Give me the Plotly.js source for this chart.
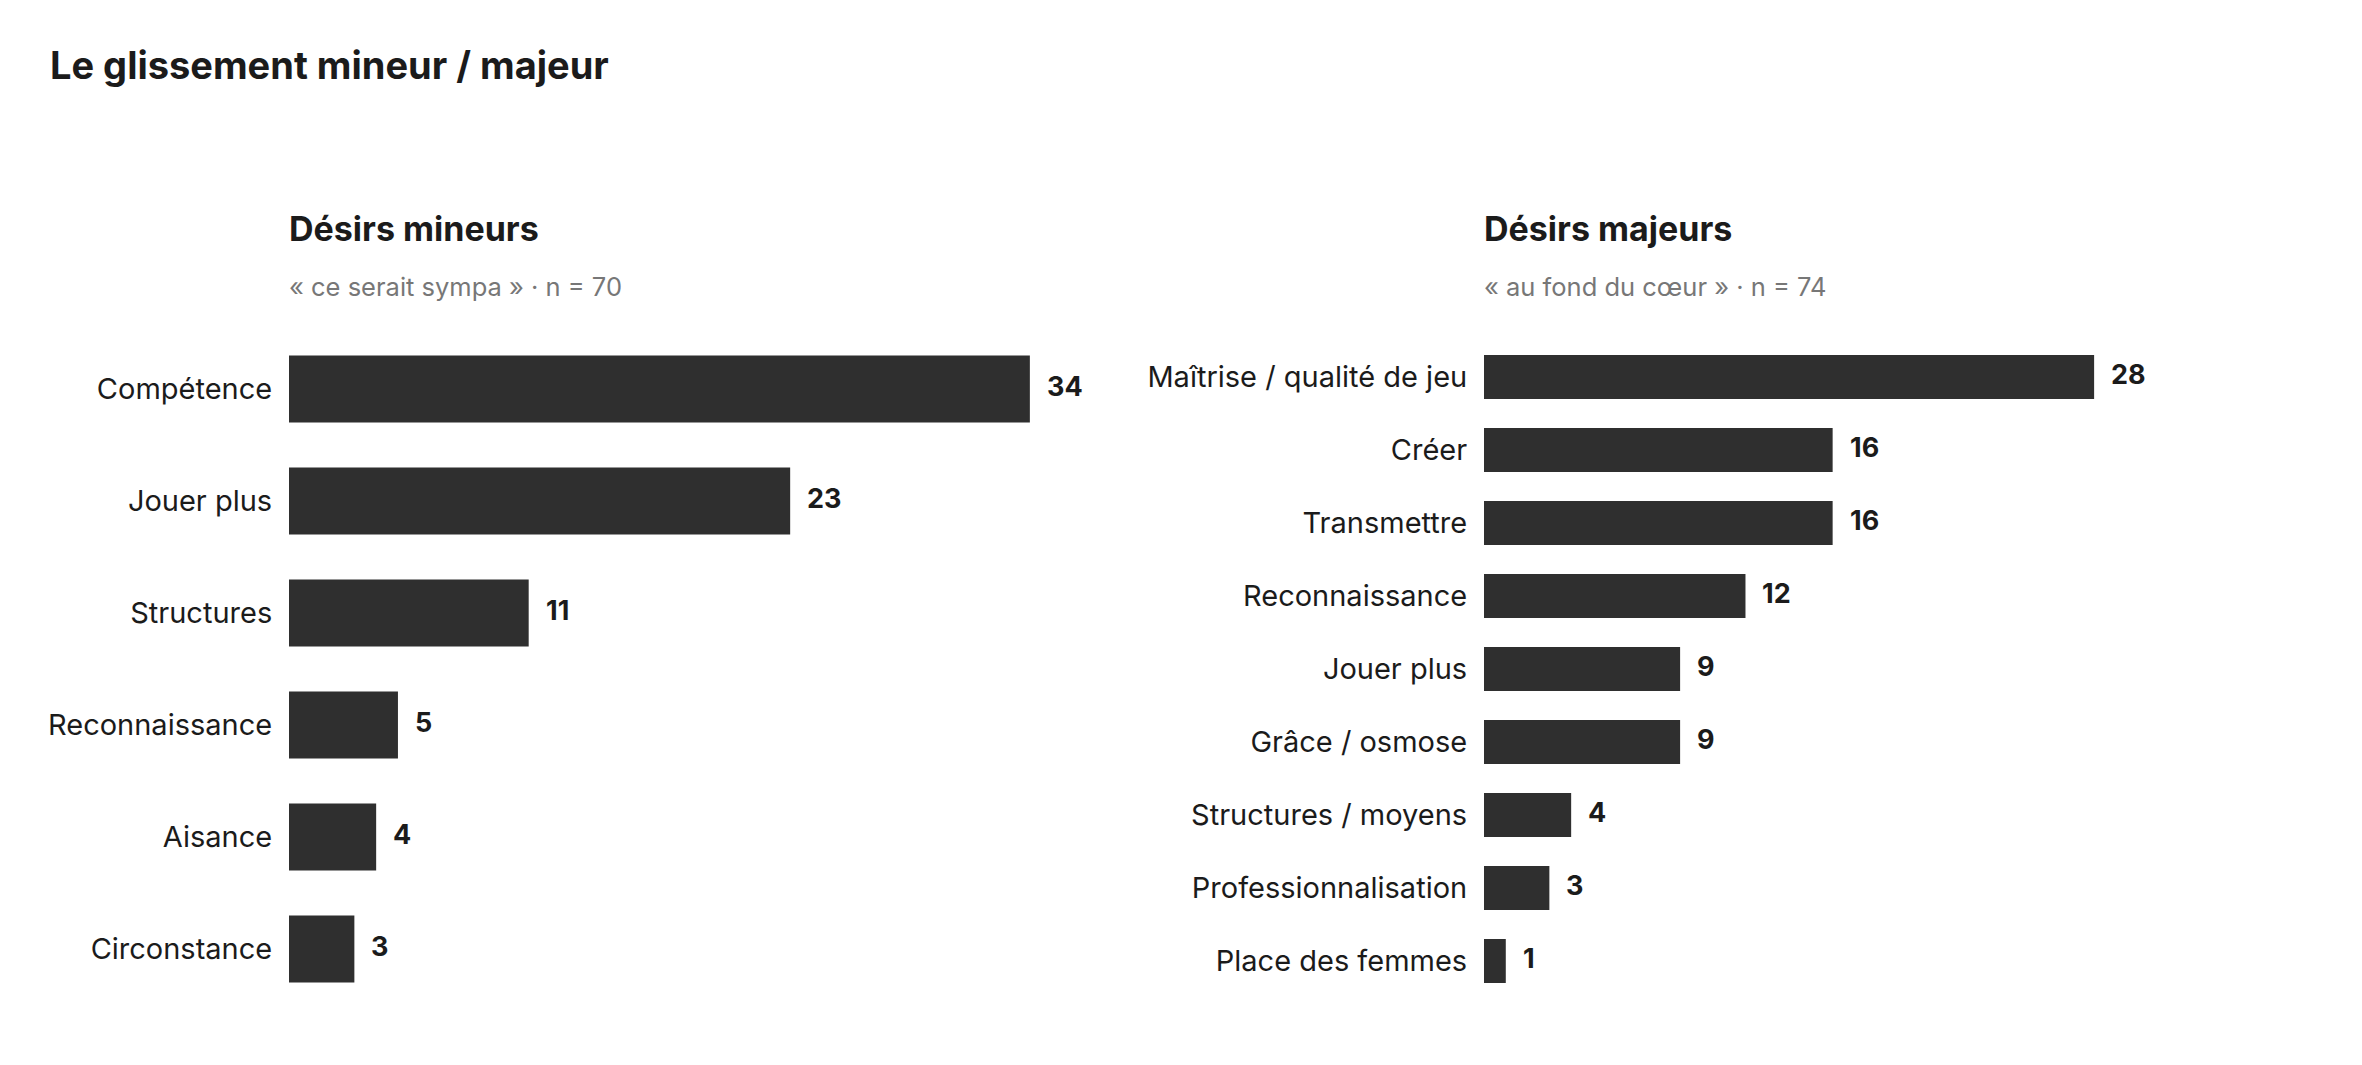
<!DOCTYPE html>
<html>
<head>
<meta charset="utf-8">
<script src="https://cdn.plot.ly/plotly-3.0.1.min.js"></script>
<style>
html,body{margin:0;padding:0;background:#fff;}
#chart{width:2362px;height:1065px;}
</style>
</head>
<body>
<div id="chart"></div>
<script>
// ---- data ----
const minorCategories = ["Compétence", "Jouer plus", "Structures", "Reconnaissance", "Aisance", "Circonstance"];
const minorValues = [34, 23, 11, 5, 4, 3];
const majorCategories = ["Maîtrise / qualité de jeu", "Créer", "Transmettre", "Reconnaissance", "Jouer plus", "Grâce / osmose", "Structures / moyens", "Professionnalisation", "Place des femmes"];
const majorValues = [28, 16, 16, 12, 9, 9, 4, 3, 1];
const chartTitle = "Le glissement mineur / majeur";
const minorTitle = "Désirs mineurs";
const minorSubtitle = "« ce serait sympa » · n = 70";
const majorTitle = "Désirs majeurs";
const majorSubtitle = "« au fond du cœur » · n = 74";

// ---- style ----
const FONT = "Inter, 'DejaVu Sans', sans-serif";
const BAR = "#2f2f2f";
const INK = "#1b1b1b";
const GREY = "#777777";
const W = 2362, H = 1065;

const traces = [
  {type:"bar", orientation:"h", x:minorValues, y:minorCategories, xaxis:"x", yaxis:"y",
   marker:{color:BAR}, hoverinfo:"none"},
  {type:"bar", orientation:"h", x:majorValues, y:majorCategories, xaxis:"x2", yaxis:"y2",
   marker:{color:BAR}, hoverinfo:"none"}
];

function valueAnnotations(cats, vals, xr, yr){
  return cats.map((c,i)=>({x:vals[i], y:c, xref:xr, yref:yr, text:"<b>"+vals[i]+"</b>",
    showarrow:false, xanchor:"left", yanchor:"middle", xshift:15, yshift:3,
    font:{family:FONT, size:27, color:INK}}));
}

const annotations = [
  {xref:"paper", yref:"paper", x:287/W, y:1-229/H, text:"<b>"+minorTitle+"</b>", showarrow:false,
   xanchor:"left", yanchor:"middle", font:{family:FONT, size:34, color:INK}},
  {xref:"paper", yref:"paper", x:287/W, y:1-287/H, text:minorSubtitle, showarrow:false,
   xanchor:"left", yanchor:"middle", font:{family:FONT, size:25.5, color:GREY}},
  {xref:"paper", yref:"paper", x:1482/W, y:1-229/H, text:"<b>"+majorTitle+"</b>", showarrow:false,
   xanchor:"left", yanchor:"middle", font:{family:FONT, size:34, color:INK}},
  {xref:"paper", yref:"paper", x:1482/W, y:1-287/H, text:majorSubtitle, showarrow:false,
   xanchor:"left", yanchor:"middle", font:{family:FONT, size:25.5, color:GREY}}
].concat(valueAnnotations(minorCategories, minorValues, "x", "y"))
 .concat(valueAnnotations(majorCategories, majorValues, "x2", "y2"));

const xCommon = {range:[0,37], showgrid:false, zeroline:false, showline:false, showticklabels:false, ticks:"", fixedrange:true};
const yCommon = {autorange:"reversed", showgrid:false, zeroline:false, showline:false, ticks:"outside",
  ticklen:10, tickcolor:"rgba(0,0,0,0)", tickfont:{family:FONT, size:29, color:INK}, fixedrange:true};

const layout = {
  width:W, height:H,
  margin:{l:0, r:0, t:0, b:0},
  paper_bgcolor:"#ffffff", plot_bgcolor:"#ffffff",
  showlegend:false,
  bargap:0.4,
  title:{text:"<b>"+chartTitle+"</b>", x:50/W, xanchor:"left", y:1-66/H, yanchor:"middle",
         font:{family:FONT, size:38, color:INK}},
  xaxis:Object.assign({}, xCommon, {domain:[289/W, (289+37*21.79)/W], anchor:"y"}),
  xaxis2:Object.assign({}, xCommon, {domain:[1484/W, (1484+37*21.79)/W], anchor:"y2"}),
  yaxis:Object.assign({}, yCommon, {domain:[1-1005/H, 1-333/H], anchor:"x"}),
  yaxis2:Object.assign({}, yCommon, {domain:[1-997.5/H, 1-340.5/H], anchor:"x2"}),
  annotations:annotations
};

Plotly.newPlot("chart", traces, layout, {displayModeBar:false, staticPlot:true});
</script>
</body>
</html>
